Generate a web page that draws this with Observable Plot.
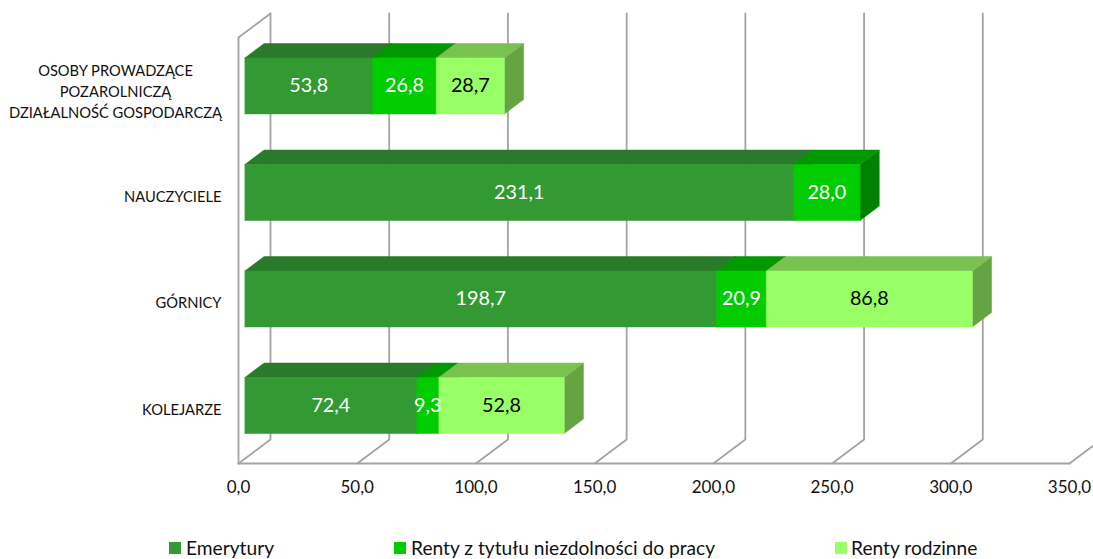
<!DOCTYPE html>
<html lang="pl">
<head>
<meta charset="utf-8">
<script src="https://cdn.jsdelivr.net/npm/d3@7"></script>
<script src="https://cdn.jsdelivr.net/npm/@observablehq/plot@0.6"></script>
<style>
html,body{margin:0;padding:0;background:#fff;overflow:hidden}
#wrap{position:relative;width:1093px;height:559px;font-family:Lato,sans-serif}
#wrap svg{overflow:hidden;display:block}
.lg{position:absolute;top:537px;font-size:19.2px;line-height:22px;color:#111;white-space:nowrap}
.lg i{position:absolute;left:0;top:5px;width:12px;height:12px}
.lg span{position:absolute}
</style>
</head>
<body>
<div id="wrap"></div>
<script>
const categories = ["OSOBY PROWADZĄCE\nPOZAROLNICZĄ\nDZIAŁALNOŚĆ GOSPODARCZĄ", "NAUCZYCIELE", "GÓRNICY", "KOLEJARZE"];
const seriesNames = ["Emerytury", "Renty z tytułu niezdolności do pracy", "Renty rodzinne"];
const emerytury = [53.8, 231.1, 198.7, 72.4];
const rentyNiezd = [26.8, 28.0, 20.9, 9.3];
const rentyRodz = [28.7, null, 86.8, 52.8];
const xTicks = [0, 50, 100, 150, 200, 250, 300, 350];

const frontColors = ["#339933", "#00cc00", "#99ff66"];
const topColors = ["#297a29", "#009900", "#79c251"];
const sideColors = ["#1f5c1f", "#008000", "#66a342"];
const labelColors = ["#fff", "#fff", "#000"];

const depthX = 32 / (831 / 350);
const depthY = 24 / 106.5;
const wallTop = 4;
const project = (x, y, z) => ({x: x + z * depthX, y: y + z * depthY});
const n = categories.length;
const slot = i => n - 1 - i;

const rows = [];
const polys = [];
const labels = [];
const barHalf = 0.263, z0 = 0.2, z1 = 0.8;
const allSeries = [emerytury, rentyNiezd, rentyRodz];
categories.forEach((cat, i) => {
  let acc = 0;
  const c = slot(i) + 0.5;
  allSeries.forEach((vals, s) => {
    const v = vals[i];
    if (v == null) return;
    const a = acc, b = acc + v;
    acc = b;
    const lo = c - barHalf, hi = c + barHalf;
    const addPoly = (pts, color) => {
      const id = polys.length;
      polys.push(id);
      [...pts, pts[0]].forEach(p => rows.push({...project(p[0], p[1], p[2]), id, color}));
    };
    addPoly([[b, lo, z0], [b, hi, z0], [b, hi, z1], [b, lo, z1]], sideColors[s]);
    addPoly([[a, hi, z0], [b, hi, z0], [b, hi, z1], [a, hi, z1]], topColors[s]);
    addPoly([[a, lo, z0], [b, lo, z0], [b, hi, z0], [a, hi, z0]], frontColors[s]);
    labels.push({...project((a + b) / 2, c, z0), text: String(v.toFixed(1)).replace(".", ","), color: labelColors[s]});
  });
});

const grid = [];
xTicks.forEach((t, k) => {
  const back0 = project(t, 0, 1), backTop = project(t, wallTop, 1), front = project(t, 0, 0);
  [front, back0, backTop].forEach(p => grid.push({...p, id: k}));
});
const frontFloor = [project(0, 0, 0), project(350, 0, 0)];
const leftWall = [project(0, 0, 0), project(0, wallTop, 0), project(0, wallTop, 1)];

const catRows = categories.map((c, i) => ({x: 0, y: slot(i) + 0.5, c}));
const gridColor = "#a3a3a3";

const plot = Plot.plot({
  width: 1093,
  height: 530,
  marginLeft: 238,
  marginRight: 24,
  marginTop: 37,
  marginBottom: 67,
  x: {domain: [0, 350], axis: null},
  y: {domain: [0, 4], axis: null},
  color: {type: "identity"},
  style: {fontFamily: "Lato, sans-serif", background: "#fff"},
  marks: [
    Plot.line(grid, {x: "x", y: "y", z: "id", stroke: gridColor, strokeWidth: 1.8}),
    Plot.line(frontFloor, {x: "x", y: "y", stroke: gridColor, strokeWidth: 1.8}),
    Plot.line(leftWall, {x: "x", y: "y", stroke: gridColor, strokeWidth: 1.8}),
    Plot.line(rows, {x: "x", y: "y", z: "id", fill: "color", stroke: "color", strokeWidth: 0.5}),
    Plot.text(labels, {x: "x", y: "y", text: "text", fill: "color", fontSize: 19.8}),
    Plot.text(catRows.filter(d => !d.c.includes("\n")), {x: "x", y: "y", text: "c", textAnchor: "end", dx: -17, fontSize: 14.7, fill: "#111"}),
    Plot.text(catRows.filter(d => d.c.includes("\n")), {x: "x", y: "y", text: "c", dx: -123, fontSize: 14.7, lineHeight: 1.43, fill: "#111"}),
    Plot.axisX({ticks: xTicks, anchor: "bottom", tickSize: 0, tickPadding: 17, fontSize: 17, color: "#111", label: null, tickFormat: d => d.toFixed(1).replace(".", ",")})
  ]
});
const wrap = document.getElementById("wrap");
wrap.appendChild(plot);
const legendX = [169, 394, 835];
const textOffset = [17, 17, 16];
seriesNames.forEach((name, s) => {
  const el = document.createElement("div");
  el.className = "lg";
  el.style.left = legendX[s] + "px";
  const sw = document.createElement("i");
  sw.style.background = frontColors[s];
  const tx = document.createElement("span");
  tx.style.left = textOffset[s] + "px";
  tx.textContent = name;
  el.append(sw, tx);
  wrap.appendChild(el);
});
</script>
</body>
</html>
